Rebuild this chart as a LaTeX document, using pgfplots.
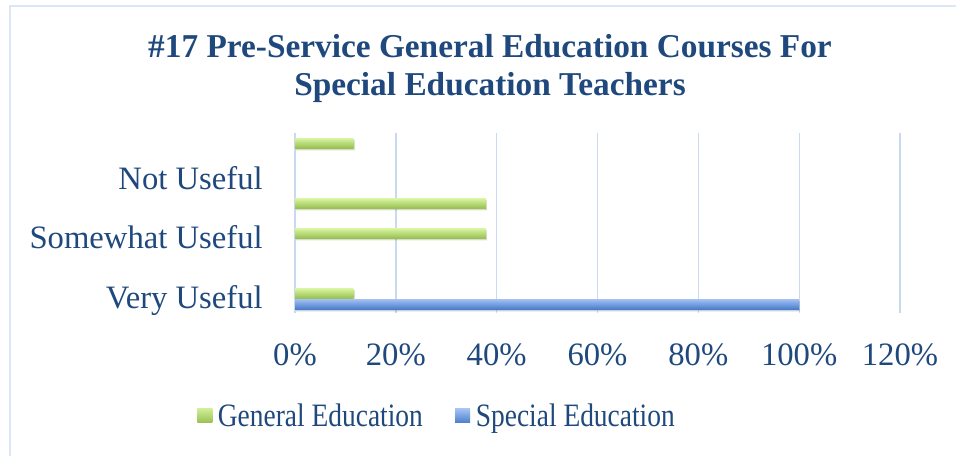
\documentclass[border=0pt]{standalone}
\usepackage{fontspec}
\setmainfont{Liberation Serif}
\newfontfamily\legfont[FakeStretch=0.84]{Liberation Serif}
\usepackage{pgfplots}
\pgfplotsset{compat=1.18}

\definecolor{txt}{HTML}{1F497D}
\definecolor{gridc}{HTML}{C9D9EF}
\definecolor{framec}{HTML}{DCE6F4}
\definecolor{gtop}{HTML}{D8F5A2}
\definecolor{gbot}{HTML}{98BF50}
\definecolor{btop}{HTML}{A3C1F5}
\definecolor{bbot}{HTML}{4A7EC8}

\newcommand{\chartfont}{\fontsize{24.5}{29}\selectfont}

\pgfplotsset{
  barbase/.style={xbar, bar shift=0pt, bar width=7.5pt, draw=none, forget plot,
    preaction={fill=black, opacity=0.13, transform canvas={xshift=0.8pt, yshift=-1.6pt}}},
  gbar/.style={barbase, top color=gtop, bottom color=gbot},
  bbar/.style={barbase, top color=btop, bottom color=bbot},
}

\begin{document}
\begin{tikzpicture}[x=0.75pt,y=0.75pt]
\useasboundingbox (0,0) rectangle (956,455);
% chart frame (only left and top edges are inside the picture)
\draw[framec, line width=1.5pt] (10,-5) -- (10,449) -- (961,449);

\node[txt, font=\bfseries\fontsize{25}{29}\selectfont, anchor=base, inner sep=0pt] at (490,398)
  {\#17 Pre-Service General Education Courses For};
\node[txt, font=\bfseries\fontsize{25}{29}\selectfont, anchor=base, inner sep=0pt] at (490,360)
  {Special Education Teachers};

\begin{axis}[
  at={(221.25pt,106.5pt)}, anchor=south west,
  width=453.75pt, height=135pt, scale only axis,
  xmin=0, xmax=120, ymin=0, ymax=180,
  xtick={0,20,...,120},
  xticklabel={\pgfmathprintnumber{\tick}\%},
  ytick={4.7,64.2,123.7},
  yticklabels={Very Useful, Somewhat Useful, Not Useful},
  tick style={draw=none},
  axis line style={draw=none},
  xmajorgrids,
  major grid style={gridc, line width=1pt},
  /pgf/number format/assume math mode=true,
  ticklabel style={font=\chartfont, text=txt, inner sep=0pt},
  x tick label style={anchor=base, yshift=-39pt},
  y tick label style={anchor=base east, xshift=-24pt},
  legend columns=2,
  legend cell align=left,
  legend style={draw=none, fill=none, at={(-0.162,-0.572)}, anchor=west,
    font=\legfont\chartfont, text=txt, inner sep=0pt,
    /tikz/every odd column/.append style={column sep=2.25pt},
    /tikz/every even column/.append style={column sep=22.25pt}},
]
% General Education
\addplot[gbar] coordinates {(11.6,170)};
\addplot[gbar] coordinates {(37.9,109.7)};
\addplot[gbar] coordinates {(37.9,79.7)};
\addplot[gbar] coordinates {(11.6,19.7)};
% Special Education
\addplot[bbar] coordinates {(100,9)};

\addlegendimage{draw=none, legend image code/.code={\path[draw=none, top color=gtop!85!gbot, bottom color=gbot] (0pt,-5.25pt) rectangle (11.25pt,5.25pt);}}
\addlegendentry{General Education}
\addlegendimage{draw=none, legend image code/.code={\path[draw=none, top color=btop, bottom color=bbot] (0pt,-5.25pt) rectangle (11.25pt,5.25pt);}}
\addlegendentry{Special Education}
\end{axis}
\end{tikzpicture}
\end{document}
